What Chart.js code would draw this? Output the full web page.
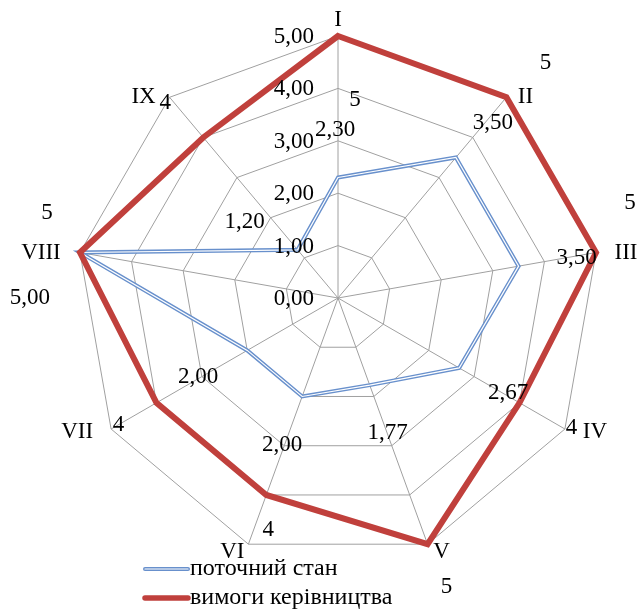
<!DOCTYPE html>
<html>
<head>
<meta charset="utf-8">
<script src="https://cdn.jsdelivr.net/npm/chart.js@4.4.1/dist/chart.umd.min.js"></script>
<style>
    html, body { margin: 0; padding: 0; background: #fff; }
    canvas { display: block; }
</style>
</head>
<body>
<canvas id="chart-1" width="638" height="613"></canvas>
<script>
var axisLabels = ['I', 'II', 'III', 'IV', 'V', 'VI', 'VII', 'VIII', 'IX'];
var currentState = [2.30, 3.50, 3.50, 2.67, 1.77, 2.00, 2.00, 5.00, 1.20];
var managementReq = [5, 5, 5, 4, 5, 4, 4, 5, 4];
var tickValues = [0, 1, 2, 3, 4, 5];
var seriesNames = ['поточний стан', 'вимоги керівництва'];

// label placement (offsets in px from the point the scale gives)
var pointLabelOffsets = [[0, -16], [19, 0], [30, 0], [30, 3], [14, 8], [-16, 8], [-34, 3], [-39, 0], [-26, 0]];
var currentLabelOffsets = [[-3, -48], [37, -35], [58, -8], [49, 25], [18, 48], [-20, 48], [-49, 27], [-50, 45], [-53, -28]];
var reqLabelOffsets = [[17, 64], [39, -34], [34, -50], [52, 25], [19, 43], [2, 35], [-38, 22], [-33, -40], [-38, -34]];

var fontFamily = '"Liberation Serif", "Times New Roman", serif';
var blueColor = '#6890cc';
var redColor = '#c0403c';

function fmt(v) {
    return v.toFixed(2).replace('.', ',');
}

var labelsPlugin = {
    id: 'sketchLabels',
    afterDraw: function (chart) {
        var ctx = chart.ctx;
        var scale = chart.scales.r;
        ctx.save();
        ctx.font = '23px ' + fontFamily;
        ctx.fillStyle = '#000';
        ctx.textBaseline = 'middle';

        // tick labels left of axis I
        ctx.textAlign = 'right';
        tickValues.forEach(function (t) {
            var p = scale.getPointPosition(0, scale.getDistanceFromCenterForValue(t));
            ctx.fillText(fmt(t), p.x - 24, p.y + 1);
        });

        ctx.textAlign = 'center';
        // axis names
        axisLabels.forEach(function (name, i) {
            var p = scale.getPointPosition(i, scale.drawingArea);
            ctx.fillText(name, p.x + pointLabelOffsets[i][0], p.y + pointLabelOffsets[i][1]);
        });

        // values of both series
        currentState.forEach(function (v, i) {
            var p = scale.getPointPosition(i, scale.getDistanceFromCenterForValue(v));
            ctx.fillText(fmt(v), p.x + currentLabelOffsets[i][0], p.y + currentLabelOffsets[i][1]);
        });
        managementReq.forEach(function (v, i) {
            var p = scale.getPointPosition(i, scale.getDistanceFromCenterForValue(v));
            ctx.fillText(String(v), p.x + reqLabelOffsets[i][0], p.y + reqLabelOffsets[i][1]);
        });

        // legend
        var lx = 145, lw = 43;
        ctx.lineCap = 'round';
        ctx.strokeStyle = blueColor;
        ctx.lineWidth = 4;
        ctx.beginPath(); ctx.moveTo(lx, 569); ctx.lineTo(lx + lw, 569); ctx.stroke();
        ctx.strokeStyle = '#fff';
        ctx.lineWidth = 1.2;
        ctx.beginPath(); ctx.moveTo(lx, 569); ctx.lineTo(lx + lw, 569); ctx.stroke();
        ctx.strokeStyle = redColor;
        ctx.lineWidth = 5.5;
        ctx.beginPath(); ctx.moveTo(lx, 598); ctx.lineTo(lx + lw, 598); ctx.stroke();

        ctx.font = '24px ' + fontFamily;
        ctx.textAlign = 'left';
        ctx.fillText(seriesNames[0], lx + lw + 2, 569);
        ctx.fillText(seriesNames[1], lx + lw + 2, 598);
        ctx.restore();
    }
};

new Chart('chart-1', {
    type: 'radar',
    data: {
        labels: axisLabels,
        datasets: [{
            label: seriesNames[1],
            data: managementReq,
            borderColor: redColor,
            borderWidth: 6,
            borderJoinStyle: 'miter',
            fill: false,
            pointRadius: 0,
            order: 0
        }, {
            label: seriesNames[0],
            data: currentState,
            borderColor: '#ffffff',
            borderWidth: 1.2,
            fill: false,
            pointRadius: 0,
            order: 1
        }, {
            label: seriesNames[0],
            data: currentState,
            borderColor: blueColor,
            borderWidth: 4,
            fill: false,
            pointRadius: 0,
            order: 2
        }]
    },
    options: {
        responsive: false,
        animation: false,
        layout: {
            padding: { left: 76, right: 38, top: 36, bottom: 53 }
        },
        plugins: {
            legend: { display: false },
            tooltip: { enabled: false }
        },
        scales: {
            r: {
                min: 0,
                max: 5,
                ticks: { display: false, stepSize: 1 },
                pointLabels: { display: false },
                grid: { color: '#a0a0a0', lineWidth: 1 },
                angleLines: { color: '#a0a0a0', lineWidth: 1 }
            }
        }
    },
    plugins: [labelsPlugin]
});
</script>
</body>
</html>
